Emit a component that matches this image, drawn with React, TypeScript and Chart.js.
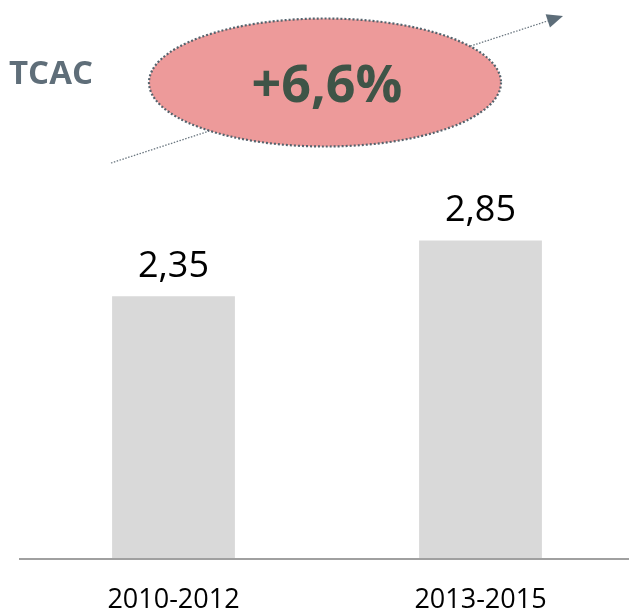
import React, { useEffect, useRef } from "react";
import { Chart, registerables } from "chart.js";

Chart.register(...registerables);

const categories = ["2010-2012", "2013-2015"];
const values = [2.35, 2.85];
const valueLabels = ["2,35", "2,85"];
const cagrLabel = "+6,6%";
const cagrTitle = "TCAC";
const yMax = 4.5;

const FONT = "'Open Sans', 'DejaVu Sans', sans-serif";

const decorPlugin = {
  id: "decor",
  afterDraw(chart: any) {
    const ctx = chart.ctx as CanvasRenderingContext2D;
    const meta = chart.getDatasetMeta(0);
    // value labels
    ctx.save();
    ctx.fillStyle = "#000000";
    ctx.font = `36px ${FONT}`;
    ctx.textAlign = "center";
    ctx.textBaseline = "alphabetic";
    meta.data.forEach((bar: any, i: number) => {
      ctx.fillText(valueLabels[i], bar.x, bar.y - 19);
    });
    ctx.restore();

    // arrow line
    const x0 = 111, y0 = 163, x1 = 563, y1 = 16;
    const dx = x1 - x0, dy = y1 - y0;
    const len = Math.hypot(dx, dy);
    const ux = dx / len, uy = dy / len;
    const headLen = 16, headW = 7;
    const bx = x1 - ux * headLen, by = y1 - uy * headLen;
    ctx.save();
    ctx.strokeStyle = "#6b7780";
    ctx.lineWidth = 1.3;
    ctx.setLineDash([1.5, 1.5]);
    ctx.beginPath();
    ctx.moveTo(x0, y0);
    ctx.lineTo(bx, by);
    ctx.stroke();
    ctx.setLineDash([]);
    ctx.fillStyle = "#5d6d79";
    ctx.beginPath();
    ctx.moveTo(x1, y1);
    ctx.lineTo(bx - uy * headW, by + ux * headW);
    ctx.lineTo(bx + uy * headW, by - ux * headW);
    ctx.closePath();
    ctx.fill();
    ctx.restore();

    // ellipse
    ctx.save();
    ctx.beginPath();
    ctx.ellipse(325, 82.5, 176, 64, 0, 0, Math.PI * 2);
    ctx.fillStyle = "#ed9a9a";
    ctx.fill();
    ctx.strokeStyle = "#55636d";
    ctx.lineWidth = 2.2;
    ctx.setLineDash([2, 2]);
    ctx.stroke();
    ctx.restore();

    // CAGR text
    ctx.save();
    ctx.fillStyle = "#3f5447";
    ctx.font = `bold 52px ${FONT}`;
    ctx.textAlign = "center";
    ctx.textBaseline = "alphabetic";
    ctx.fillText(cagrLabel, 327, 102);
    ctx.fillStyle = "#5f6e79";
    ctx.font = `bold 33px ${FONT}`;
    ctx.textAlign = "left";
    ctx.fillText(cagrTitle, 9, 84);
    ctx.restore();

    // baseline extension
    ctx.save();
    ctx.strokeStyle = "#a0a0a0";
    ctx.lineWidth = 2;
    ctx.beginPath();
    ctx.moveTo(19, chart.chartArea.bottom);
    ctx.lineTo(chart.width, chart.chartArea.bottom);
    ctx.stroke();
    ctx.restore();
  },
};

export default function App() {
  const ref = useRef<HTMLCanvasElement>(null);
  useEffect(() => {
    if (!ref.current) return;
    const chart = new Chart(ref.current, {
      type: "bar",
      data: {
        labels: categories,
        datasets: [
          {
            data: values,
            backgroundColor: "#d9d9d9",
            borderWidth: 0,
            barPercentage: 0.4,
            categoryPercentage: 1,
          },
        ],
      },
      options: {
        animation: false,
        responsive: false,
        maintainAspectRatio: false,
        events: [],
        layout: { padding: { left: 20, right: 6, top: 56, bottom: 0 } },
        plugins: {
          legend: { display: false },
          tooltip: { enabled: false },
          title: { display: false },
        },
        scales: {
          x: {
            grid: { display: false, drawTicks: false },
            border: { display: false },
            ticks: {
              color: "#000000",
              font: { family: FONT, size: 27 },
              padding: 25,
              maxRotation: 0,
            },
            afterFit(scale: any) {
              scale.height = 52;
            },
          },
          y: {
            display: false,
            min: 0,
            max: yMax,
          },
        },
      },
      plugins: [decorPlugin],
    });
    return () => chart.destroy();
  }, []);
  return (
    <div style={{ position: "absolute", left: 0, top: 0, width: 629, height: 611, overflow: "hidden", background: "#fff" }}>
      <canvas ref={ref} width={640} height={611} style={{ display: "block", width: 640, height: 611 }} />
    </div>
  );
}
